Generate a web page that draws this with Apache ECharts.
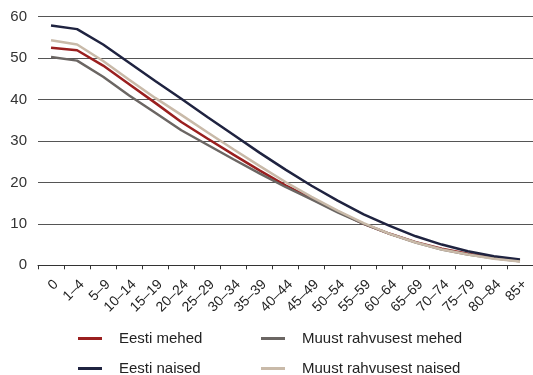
<!DOCTYPE html>
<html>
<head>
<meta charset="utf-8">
<script src="https://cdn.jsdelivr.net/npm/echarts@6/dist/echarts.min.js"></script>
<style>
html,body{margin:0;padding:0;background:#fff;}
#chart{width:533px;height:375px;}
</style>
</head>
<body>
<div id="chart"></div>
<script>
const categories = ['0','1–4','5–9','10–14','15–19','20–24','25–29','30–34','35–39','40–44','45–49','50–54','55–59','60–64','65–69','70–74','75–79','80–84','85+'];
const eestiMehed = [52.5, 51.9, 48.2, 43.7, 39.2, 34.6, 30.6, 26.7, 22.9, 19.3, 16.1, 13.0, 10.0, 7.6, 5.6, 4.0, 2.8, 1.8, 1.1];
const muustMehed = [50.3, 49.4, 45.5, 41.0, 36.8, 32.6, 29.1, 25.6, 22.2, 18.9, 15.9, 12.8, 10.0, 7.6, 5.5, 3.8, 2.6, 1.7, 1.0];
const eestiNaised = [57.9, 57.0, 53.3, 48.9, 44.5, 40.2, 35.8, 31.5, 27.2, 23.1, 19.2, 15.6, 12.3, 9.5, 7.0, 5.0, 3.4, 2.2, 1.4];
const muustNaised = [54.3, 53.3, 49.3, 44.8, 40.4, 36.3, 32.1, 28.0, 24.0, 20.1, 16.5, 13.2, 10.2, 7.6, 5.5, 3.8, 2.6, 1.6, 0.9];
const yTicks = [0, 10, 20, 30, 40, 50, 60];

const names = ['Eesti mehed', 'Muust rahvusest mehed', 'Eesti naised', 'Muust rahvusest naised'];
const colors = ['#9a1f1f', '#6b6663', '#1f2340', '#c9baa9'];
const datasets = [eestiMehed, muustMehed, eestiNaised, muustNaised];

const chart = echarts.init(document.getElementById('chart'), null, {renderer: 'canvas'});
const font = 'Liberation Sans, Arial, sans-serif';
function makeLegend(left, top, name) {
  return {
    show: true,
    orient: 'horizontal',
    left: left,
    top: top,
    data: [name],
    icon: 'rect',
    itemWidth: 24,
    itemHeight: 3,
    padding: 0,
    textStyle: {fontFamily: font, fontSize: 15, color: '#222', padding: [0, 0, 0, 12]}
  };
}
chart.setOption({
  animation: false,
  color: colors,
  textStyle: {fontFamily: font},
  grid: {left: 38, top: 16.7, width: 497, height: 248.6, containLabel: false},
  legend: [
    makeLegend(78, 331, 'Eesti mehed'),
    makeLegend(78, 361, 'Eesti naised'),
    makeLegend(261, 331, 'Muust rahvusest mehed'),
    makeLegend(261, 361, 'Muust rahvusest naised')
  ],
  xAxis: {
    type: 'category',
    data: categories,
    boundaryGap: true,
    axisLine: {lineStyle: {color: '#333', width: 1}},
    axisTick: {show: true, length: 4, lineStyle: {color: '#333'}},
    axisLabel: {rotate: 45, margin: 12, verticalAlign: 'top', fontSize: 14, color: '#222', fontFamily: font, interval: 0}
  },
  yAxis: {
    type: 'value',
    min: yTicks[0],
    max: yTicks[yTicks.length - 1],
    interval: 10,
    axisLine: {show: false},
    axisTick: {show: false},
    axisLabel: {margin: 11, fontSize: 15, color: '#333', fontFamily: font},
    splitLine: {lineStyle: {color: '#555', width: 1}}
  },
  series: datasets.map((d, i) => ({
    name: names[i],
    type: 'line',
    data: d,
    symbol: 'none',
    lineStyle: {width: 2.5, color: colors[i]},
    itemStyle: {color: colors[i]}
  }))
});
</script>
</body>
</html>
